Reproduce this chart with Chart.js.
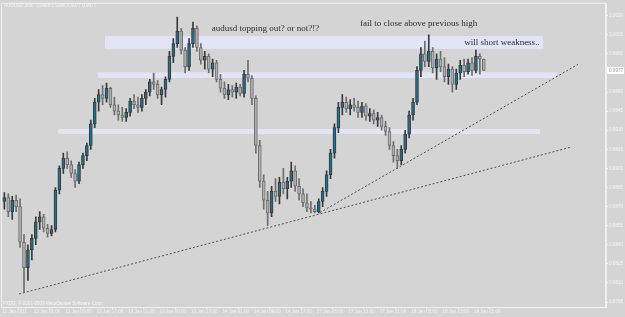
<!DOCTYPE html>
<html>
<head>
<meta charset="utf-8">
<script src="https://cdn.jsdelivr.net/npm/chart.js@4/dist/chart.umd.min.js"></script>
<style>
  html, body { margin: 0; padding: 0; background: #d4d4d4; }
  canvas { display: block; }
</style>
</head>
<body>
<canvas id="chart" width="625" height="317"></canvas>
<script>
// AUDUSD candles
const opens = [0.9874,0.9877,0.9866,0.9875,0.9870,0.9842,0.9822,0.9836,0.9845,0.9858,0.9862,0.9853,0.9849,0.9852,0.9883,0.9900,0.9908,0.9903,0.9896,0.9890,
  0.9903,0.9910,0.9918,0.9935,0.9952,0.9958,0.9955,0.9963,0.9950,0.9945,0.9942,0.9940,0.9944,0.9953,0.9950,0.9948,0.9955,0.9960,0.9968,0.9966,
  0.9958,0.9962,0.9970,0.9988,0.9998,1.0008,0.9993,0.9980,0.9998,1.0010,0.9995,0.9985,0.9988,0.9978,0.9983,0.9970,0.9963,0.9958,0.9962,0.9960,
  0.9964,0.9959,0.9974,0.9971,0.9955,0.9918,0.9890,0.9875,0.9865,0.9882,0.9878,0.9889,0.9884,0.9890,0.9898,0.9886,0.9880,0.9873,0.9869,0.9868,
  0.9866,0.9874,0.9882,0.9895,0.9912,0.9932,0.9948,0.9952,0.9947,0.9950,0.9948,0.9944,0.9949,0.9941,0.9943,0.9938,0.9940,0.9933,0.9929,0.9918,
  0.9910,0.9906,0.9915,0.9927,0.9942,0.9952,0.9977,0.9990,0.9984,0.9992,0.9979,0.9986,0.9980,0.9972,0.9978,0.9966,0.9975,0.9981,0.9976,0.9983,
  0.9977,0.9988,0.9986];
const highs = [0.9881,0.9880,0.9878,0.9879,0.9876,0.9848,0.9840,0.9848,0.9862,0.9866,0.9864,0.9856,0.9855,0.9885,0.9902,0.9912,0.9913,0.9906,0.9899,0.9905,
  0.9912,0.9920,0.9938,0.9955,0.9962,0.9965,0.9967,0.9964,0.9956,0.9950,0.9948,0.9947,0.9955,0.9958,0.9956,0.9958,0.9962,0.9970,0.9975,0.9969,
  0.9964,0.9972,0.9992,1.0002,1.0019,1.0010,0.9995,1.0002,1.0015,1.0012,0.9998,0.9992,0.9990,0.9986,0.9985,0.9974,0.9968,0.9966,0.9965,0.9967,
  0.9966,0.9977,0.9985,0.9973,0.9957,0.9922,0.9895,0.9882,0.9886,0.9892,0.9893,0.9900,0.9893,0.9905,0.9902,0.9892,0.9884,0.9880,0.9874,0.9871,
  0.9876,0.9885,0.9898,0.9915,0.9935,0.9952,0.9958,0.9956,0.9954,0.9955,0.9953,0.9952,0.9951,0.9947,0.9946,0.9944,0.9942,0.9937,0.9932,0.9921,
  0.9915,0.9918,0.9930,0.9945,0.9955,0.9980,0.9995,1.0000,1.0005,0.9995,0.9990,0.9992,0.9987,0.9982,0.9980,0.9978,0.9985,0.9986,0.9986,0.9987,
  0.9993,0.9990,0.9986];
const lows = [0.9868,0.9862,0.9860,0.9866,0.9838,0.9803,0.9812,0.9828,0.9840,0.9852,0.9850,0.9846,0.9847,0.9850,0.9880,0.9896,0.9900,0.9893,0.9885,0.9888,
  0.9900,0.9906,0.9915,0.9932,0.9945,0.9950,0.9952,0.9948,0.9942,0.9938,0.9937,0.9937,0.9941,0.9947,0.9944,0.9945,0.9950,0.9957,0.9962,0.9955,
  0.9950,0.9956,0.9968,0.9983,0.9995,0.9990,0.9975,0.9977,0.9995,0.9992,0.9982,0.9978,0.9975,0.9972,0.9968,0.9960,0.9955,0.9954,0.9956,0.9955,
  0.9957,0.9956,0.9968,0.9950,0.9912,0.9885,0.9868,0.9855,0.9862,0.9874,0.9872,0.9880,0.9876,0.9885,0.9882,0.9875,0.9870,0.9866,0.9865,0.9865,
  0.9865,0.9870,0.9878,0.9892,0.9908,0.9928,0.9942,0.9944,0.9942,0.9945,0.9940,0.9940,0.9938,0.9937,0.9935,0.9933,0.9930,0.9926,0.9915,0.9905,
  0.9900,0.9903,0.9912,0.9924,0.9938,0.9950,0.9972,0.9980,0.9980,0.9975,0.9970,0.9976,0.9968,0.9966,0.9960,0.9962,0.9970,0.9972,0.9974,0.9973,
  0.9975,0.9974,0.9977];
const closes = [0.9877,0.9866,0.9875,0.9870,0.9842,0.9822,0.9836,0.9845,0.9858,0.9862,0.9853,0.9849,0.9852,0.9883,0.9900,0.9908,0.9903,0.9896,0.9890,0.9903,
  0.9910,0.9918,0.9935,0.9952,0.9958,0.9955,0.9963,0.9950,0.9945,0.9942,0.9940,0.9944,0.9953,0.9950,0.9948,0.9955,0.9960,0.9968,0.9966,0.9958,
  0.9962,0.9970,0.9988,0.9998,1.0008,0.9993,0.9980,0.9998,1.0010,0.9995,0.9985,0.9988,0.9978,0.9983,0.9970,0.9963,0.9958,0.9962,0.9960,0.9964,
  0.9959,0.9974,0.9971,0.9955,0.9918,0.9890,0.9875,0.9865,0.9882,0.9878,0.9889,0.9884,0.9890,0.9898,0.9886,0.9880,0.9873,0.9869,0.9868,0.9866,
  0.9874,0.9882,0.9895,0.9912,0.9932,0.9948,0.9952,0.9947,0.9950,0.9948,0.9944,0.9949,0.9941,0.9943,0.9938,0.9940,0.9933,0.9929,0.9918,0.9910,
  0.9906,0.9915,0.9927,0.9942,0.9952,0.9977,0.9990,0.9984,0.9992,0.9979,0.9986,0.9980,0.9972,0.9978,0.9966,0.9975,0.9981,0.9976,0.9983,0.9977,
  0.9988,0.9986,0.9977];

const timeLabels = ["11 Jan 2011","12 Jan 01:00","12 Jan 09:00","12 Jan 17:00","13 Jan 01:00","13 Jan 09:00",
  "13 Jan 17:00","14 Jan 01:00","14 Jan 09:00","14 Jan 17:00","17 Jan 05:00","17 Jan 13:00",
  "17 Jan 21:00","18 Jan 05:00","18 Jan 13:00","18 Jan 21:00"];
const priceTicks = [1.0020,1.0005,0.9990,0.9960,0.9945,0.9930,0.9915,0.9900,0.9885,0.9870,0.9855,0.9840,0.9825,0.9810,0.9795];

// drawn objects: shaded zones and trend lines (bar index / price)
const zoneFrom = [25.6, 23.8, 13.65];
const zoneTo   = [137.1, 140.6, 136.3];
const zoneHigh = [1.0004, 0.99755, 0.9931];
const zoneLow  = [0.9994, 0.9971, 0.9927];
const trendLong  = [{ x: 3.73, y: 0.98013 }, { x: 144.4, y: 0.99169 }];
const trendSteep = [{ x: 80.3, y: 0.98653 }, { x: 145.96, y: 0.99817 }];

const notes = [
  { text: "audusd topping out? or not?!?", x: 52.8, y: 1.00083 },
  { text: "fail to close above previous high", x: 90.5, y: 1.00122 },
  { text: "will short weakness..", x: 117.0, y: 0.99966 }
];

const BG = "#d4d4d4";
const AXIS = "#f0f0f0";
const TINY = "4.6px 'Liberation Sans', Arial, sans-serif";

const isUp = closes.map((c, i) => c >= opens[i]);
const wicks = opens.map((_, i) => ({ x: i, y: [lows[i], highs[i]] }));
const bodies = opens.map((o, i) => ({ x: i, y: [Math.min(o, closes[i]), Math.max(o, closes[i])] }));

const chartDecor = {
  id: "chartDecor",
  beforeDraw(chart) {
    const { ctx, width, height } = chart;
    ctx.save();
    ctx.fillStyle = BG;
    ctx.fillRect(0, 0, width, height);
    ctx.restore();
  },
  beforeDatasetsDraw(chart) {
    const { ctx, chartArea, scales: { x, y } } = chart;
    ctx.save();
    ctx.beginPath();
    ctx.rect(chartArea.left, chartArea.top, chartArea.width, chartArea.height);
    ctx.clip();
    ctx.fillStyle = "#e4e4f8";
    zoneFrom.forEach((from, i) => {
      const x1 = x.getPixelForValue(from), x2 = x.getPixelForValue(zoneTo[i]);
      const y1 = y.getPixelForValue(zoneHigh[i]), y2 = y.getPixelForValue(zoneLow[i]);
      ctx.fillRect(x1, y1, x2 - x1, y2 - y1);
    });
    ctx.restore();
  },
  afterDatasetsDraw(chart) {
    const { ctx, chartArea, scales: { x, y } } = chart;
    ctx.save();
    ctx.fillStyle = "#2e2e2e";
    ctx.font = "9px 'Liberation Serif', 'Times New Roman', serif";
    ctx.textBaseline = "alphabetic";
    notes.forEach(n => ctx.fillText(n.text, x.getPixelForValue(n.x), y.getPixelForValue(n.y)));

    // frame
    ctx.strokeStyle = AXIS;
    ctx.lineWidth = 1;
    ctx.strokeRect(chartArea.left - 0.5, chartArea.top - 0.5, chartArea.width, chartArea.height + 1);

    // header + copyright
    ctx.font = TINY;
    ctx.fillStyle = "#f6f6f6";
    ctx.textBaseline = "middle";
    const n = closes.length - 1;
    ctx.fillText("AUDUSD,M30  " + [opens[n], highs[n], lows[n], closes[n]].map(v => v.toFixed(4)).join(" "), 4, 6);
    ctx.fillText("FXDD, \u00a9 2001-2009 MetaQuotes Software Corp.", 3, chartArea.bottom - 3);

    // current price tag on the axis
    const py = y.getPixelForValue(closes[n]);
    ctx.fillStyle = "#ffffff";
    ctx.fillRect(chartArea.right + 1, py - 3.5, 17, 7);
    ctx.fillStyle = "#9a9a9a";
    ctx.fillText(closes[n].toFixed(4), chartArea.right + 3, py);
    ctx.restore();
  }
};

new Chart(document.getElementById("chart"), {
  type: "bar",
  data: {
    datasets: [
      {
        data: wicks,
        backgroundColor: isUp.map(u => (u ? "#3a3a3a" : "#6e6e6e")),
        barThickness: 1,
        grouped: false,
        minBarLength: 1,
        order: 2
      },
      {
        data: bodies,
        backgroundColor: isUp.map(u => (u ? "#1f6f8f" : "#b0b0b0")),
        borderColor: isUp.map(u => (u ? "#3a3a3a" : "#6e6e6e")),
        borderWidth: 1,
        borderSkipped: false,
        barThickness: 3,
        grouped: false,
        minBarLength: 1,
        order: 1
      },
      {
        type: "line",
        data: trendLong,
        borderColor: "#505050",
        borderWidth: 1,
        borderDash: [2, 2],
        pointRadius: 0,
        order: 0
      },
      {
        type: "line",
        data: trendSteep,
        borderColor: "#505050",
        borderWidth: 1,
        borderDash: [2, 2],
        pointRadius: 0,
        order: 0
      }
    ]
  },
  options: {
    responsive: false,
    animation: false,
    layout: { padding: { left: 2, top: 2, right: 0, bottom: 0 } },
    plugins: { legend: { display: false }, tooltip: { enabled: false } },
    scales: {
      x: {
        type: "linear",
        offset: false,
        min: -0.6,
        max: 153.1,
        afterBuildTicks: s => { s.ticks = timeLabels.map((_, k) => ({ value: 8 * k - 0.5 })); },
        afterFit: s => { s.height = 10; },
        border: { color: AXIS },
        grid: { drawOnChartArea: false, tickLength: 2, tickColor: AXIS },
        ticks: {
          autoSkip: false,
          maxRotation: 0,
          align: "start",
          padding: 0,
          color: "#f4f4f4",
          font: { family: "'Liberation Sans', Arial, sans-serif", size: 4.6 },
          callback: (v, i) => timeLabels[i]
        }
      },
      y: {
        position: "right",
        min: 0.97911,
        max: 1.0029375,
        afterBuildTicks: s => { s.ticks = priceTicks.map(v => ({ value: v })); },
        afterFit: s => { s.width = 19; },
        border: { color: AXIS },
        grid: { drawOnChartArea: false, tickLength: 2, tickColor: AXIS },
        ticks: {
          padding: 1,
          color: "#f4f4f4",
          font: { family: "'Liberation Sans', Arial, sans-serif", size: 4.6 },
          callback: v => Number(v).toFixed(4)
        }
      }
    }
  },
  plugins: [chartDecor]
});
</script>
</body>
</html>
